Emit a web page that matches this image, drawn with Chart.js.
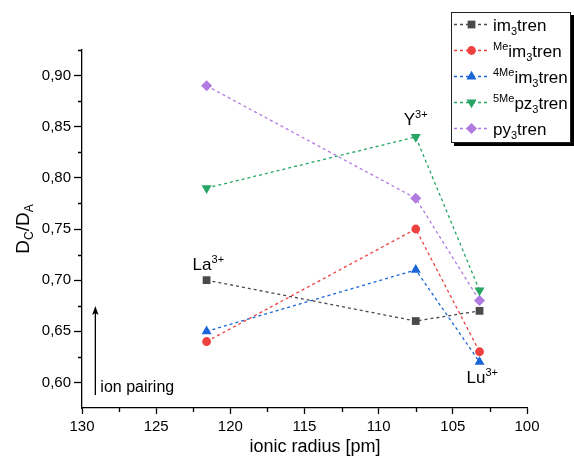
<!DOCTYPE html>
<html><head><meta charset="utf-8">
<script src="https://cdn.jsdelivr.net/npm/chart.js@4"></script>
<style>html,body{margin:0;padding:0;background:#fff}#wrap{width:574px;height:457px}</style>
</head><body><div id="wrap"><canvas id="c" width="574" height="457"></canvas></div>
<script>
// ---- data ----
const ionicRadius = [121.6, 107.5, 103.2];
const ionNames = ['La', 'Y', 'Lu'];
const im3tren      = [0.70, 0.66, 0.67];
const Meim3tren    = [0.64, 0.75, 0.63];
const Me4im3tren   = [0.65, 0.71, 0.62];
const Me5pz3tren   = [0.79, 0.84, 0.69];
const py3tren      = [0.89, 0.78, 0.68];
const legendPrefix = ['', 'Me', '4Me', '5Me', ''];
const legendStem   = ['im', 'im', 'im', 'pz', 'py'];
const xTicks = [130, 125, 120, 115, 110, 105, 100];
const xMinor = [127.5, 122.5, 117.5, 112.5, 107.5, 102.5];
const yTicks = [0.60, 0.65, 0.70, 0.75, 0.80, 0.85, 0.90];
const yMinor = [0.625, 0.675, 0.725, 0.775, 0.825, 0.875, 0.925];

const FONT = "'Liberation Sans', Arial, sans-serif";
const seriesValues = [im3tren, Meim3tren, Me4im3tren, Me5pz3tren, py3tren];
const colors = ['#4a4a4a', '#ef4040', '#1a66d8', '#27a564', '#b07ae0'];
const styles = ['rect', 'circle', 'triangle', 'triangle', 'rectRot'];
const rotations = [0, 0, 0, 180, 0];
const radii = [5.5, 4.4, 5.8, 5.8, 5.5];

const datasets = seriesValues.map((vals, i) => ({
  label: legendPrefix[i] + legendStem[i] + '3tren',
  data: vals.map((v, j) => ({x: ionicRadius[j], y: v})),
  showLine: true,
  borderColor: colors[i],
  backgroundColor: colors[i],
  borderWidth: 1.3,
  borderDash: [3, 3],
  pointStyle: styles[i],
  pointRotation: rotations[i],
  pointRadius: radii[i],
  pointBorderWidth: 0,
  pointHoverRadius: radii[i]
}));

function drawRich(ctx, x, y, parts) {
  ctx.textBaseline = 'alphabetic';
  ctx.textAlign = 'left';
  for (const p of parts) {
    ctx.font = p.size + 'px ' + FONT;
    ctx.fillText(p.t, x, y + (p.dy || 0));
    x += ctx.measureText(p.t).width;
  }
  return x;
}

const decor = {
  id: 'decor',
  afterDraw(chart) {
    const ctx = chart.ctx;
    const xs = chart.scales.x, ys = chart.scales.y;
    const area = chart.chartArea;
    ctx.save();
    // minor ticks
    ctx.strokeStyle = '#000';
    ctx.lineWidth = 1.3;
    ctx.beginPath();
    xMinor.forEach(v => {
      const px = Math.round(xs.getPixelForValue(v)) + 0.5;
      ctx.moveTo(px, area.bottom); ctx.lineTo(px, area.bottom + 4);
    });
    yMinor.forEach(v => {
      const py = Math.round(ys.getPixelForValue(v)) + 0.5;
      ctx.moveTo(area.left, py); ctx.lineTo(area.left - 4, py);
    });
    ctx.stroke();

    ctx.fillStyle = '#000';
    // axis titles
    ctx.font = '18px ' + FONT;
    ctx.textAlign = 'center';
    ctx.textBaseline = 'alphabetic';
    ctx.fillText('ionic radius [pm]', 315, 452);
    ctx.save();
    ctx.translate(29, 229);
    ctx.rotate(-Math.PI / 2);
    ctx.font = '19px ' + FONT;
    const parts = [{t:'D', size:19}, {t:'C', size:12, dy:4}, {t:'/D', size:19}, {t:'A', size:12, dy:4}];
    let w = 0;
    parts.forEach(p => { ctx.font = p.size + 'px ' + FONT; w += ctx.measureText(p.t).width; });
    drawRich(ctx, -w / 2, 0, parts);
    ctx.restore();

    // ion annotations
    const sup = '3+';
    const offs = [[-14, -10, 0.70], [-12, -12, 0.84], [-13, 21, 0.62]];
    ionNames.forEach((n, i) => {
      const px = xs.getPixelForValue(ionicRadius[i]) + offs[i][0];
      const py = ys.getPixelForValue(offs[i][2]) + offs[i][1];
      drawRich(ctx, px, py, [{t:n, size:17}, {t:sup, size:11, dy:-7}]);
    });

    // ion pairing arrow
    const ax = xs.getPixelForValue(129.1);
    ctx.strokeStyle = '#000';
    ctx.lineWidth = 1.3;
    ctx.beginPath();
    ctx.moveTo(ax, 395); ctx.lineTo(ax, 312);
    ctx.stroke();
    ctx.beginPath();
    ctx.moveTo(ax, 306); ctx.lineTo(ax - 3.2, 315); ctx.lineTo(ax, 313); ctx.lineTo(ax + 3.2, 315); ctx.closePath();
    ctx.fill();
    drawRich(ctx, ax + 5, 392, [{t:'ion pairing', size:16}]);

    // legend
    const L = 451, T = 12, R = 571, B = 143;
    ctx.fillStyle = '#000';
    ctx.fillRect(L + 3, T + 3, R - L, B - T);
    ctx.fillStyle = '#fff';
    ctx.fillRect(L, T, R - L, B - T);
    ctx.strokeStyle = '#222';
    ctx.lineWidth = 1;
    ctx.strokeRect(L + 0.5, T + 0.5, R - L - 1, B - T - 1);
    datasets.forEach((ds, i) => {
      const cy = 24.5 + 26 * i;
      ctx.save();
      ctx.strokeStyle = ds.borderColor;
      ctx.lineWidth = 1.3;
      ctx.setLineDash([3, 3]);
      ctx.beginPath();
      ctx.moveTo(454, cy); ctx.lineTo(489, cy);
      ctx.stroke();
      ctx.restore();
      ctx.fillStyle = ds.backgroundColor;
      Chart.helpers.drawPoint(ctx, {pointStyle: ds.pointStyle, rotation: ds.pointRotation, radius: ds.pointRadius, borderWidth: 0}, 471.5, cy);
      ctx.fillStyle = '#000';
      const p = [];
      if (legendPrefix[i]) p.push({t: legendPrefix[i], size: 11, dy: -7});
      p.push({t: legendStem[i], size: 17}, {t: '3', size: 11, dy: 4}, {t: 'tren', size: 17});
      drawRich(ctx, 493, cy + 6, p);
    });
    ctx.restore();
  }
};

new Chart(document.getElementById('c'), {
  type: 'scatter',
  data: {datasets},
  options: {
    responsive: false,
    animation: false,
    devicePixelRatio: 1,
    layout: {padding: {left: 0, top: 50, right: 47, bottom: 0}},
    plugins: {legend: {display: false}, tooltip: {enabled: false}},
    scales: {
      x: {
        type: 'linear', min: 100, max: 130, reverse: true,
        afterBuildTicks: s => { s.ticks = xTicks.map(v => ({value: v})); },
        afterFit: s => { s.height = 49; },
        ticks: {font: {size: 15, family: FONT}, color: '#000', padding: 4, autoSkip: false, maxRotation: 0,
                callback: v => String(v)},
        grid: {drawOnChartArea: false, drawTicks: true, tickLength: 6, tickColor: '#000', tickWidth: 1.3},
        border: {color: '#000', width: 1.3}
      },
      y: {
        type: 'linear', min: 0.575, max: 0.925,
        afterBuildTicks: s => { s.ticks = yTicks.map(v => ({value: v})); },
        afterFit: s => { s.width = 82; },
        ticks: {font: {size: 15, family: FONT}, color: '#000', padding: 3, autoSkip: false,
                callback: v => v.toFixed(2).replace('.', ',')},
        grid: {drawOnChartArea: false, drawTicks: true, tickLength: 8, tickColor: '#000', tickWidth: 1.3},
        border: {color: '#000', width: 1.3}
      }
    }
  },
  plugins: [decor]
});
</script></body></html>
